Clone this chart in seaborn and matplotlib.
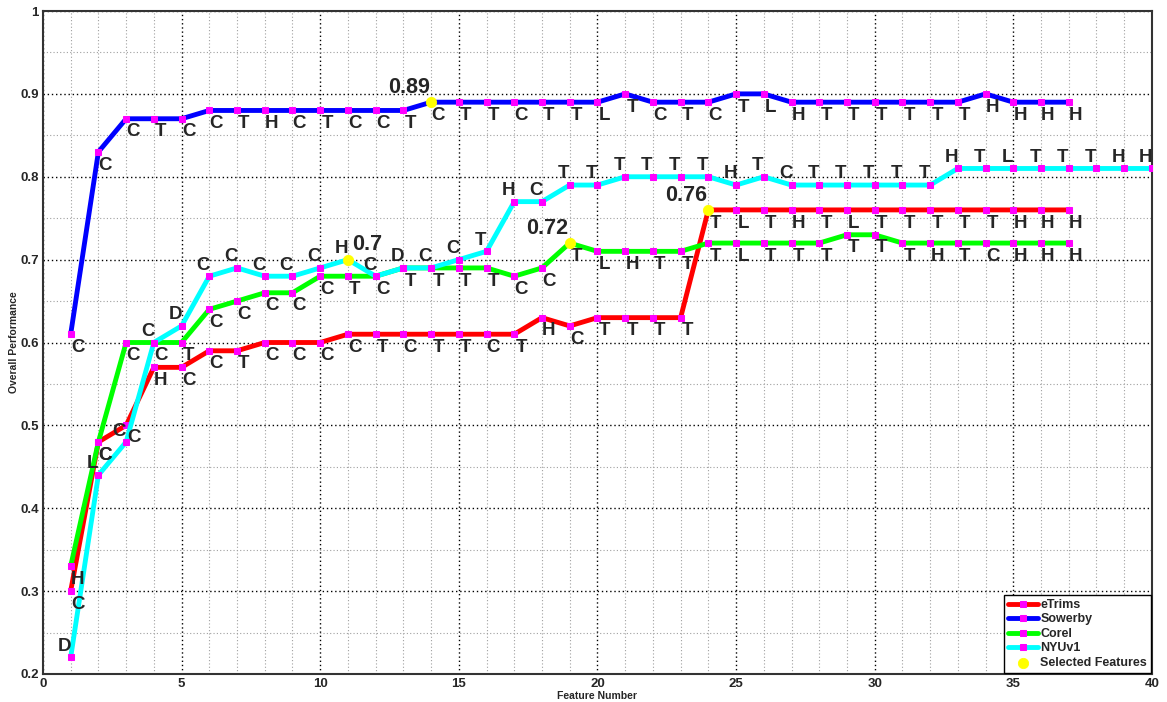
import numpy as np
import matplotlib
matplotlib.use("Agg")
import matplotlib.pyplot as plt
import seaborn as sns
from matplotlib.ticker import MultipleLocator, FuncFormatter

# --------------------
# values
etrims = [0.30, 0.48, 0.50, 0.57, 0.57, 0.59, 0.59, 0.60, 0.60, 0.60,
          0.61, 0.61, 0.61, 0.61, 0.61, 0.61, 0.61, 0.63, 0.62, 0.63,
          0.63, 0.63, 0.63, 0.76, 0.76, 0.76, 0.76, 0.76, 0.76, 0.76,
          0.76, 0.76, 0.76, 0.76, 0.76, 0.76, 0.76]
etrims_labels = list("CCCHCCTCCC" "CTCTTCTHCT" "TTTTLTHTLT" "TTTTHHH")

sowerby = [0.61, 0.83, 0.87, 0.87, 0.87, 0.88, 0.88, 0.88, 0.88, 0.88,
           0.88, 0.88, 0.88, 0.89, 0.89, 0.89, 0.89, 0.89, 0.89, 0.89,
           0.90, 0.89, 0.89, 0.89, 0.90, 0.90, 0.89, 0.89, 0.89, 0.89,
           0.89, 0.89, 0.89, 0.90, 0.89, 0.89, 0.89]
sowerby_labels = list("CCCTCCTHCT" "CCTCTTCTTL" "TCTCTLHTTT" "TTTHHHH")

corel = [0.33, 0.48, 0.60, 0.60, 0.60, 0.64, 0.65, 0.66, 0.66, 0.68,
         0.68, 0.68, 0.69, 0.69, 0.69, 0.69, 0.68, 0.69, 0.72, 0.71,
         0.71, 0.71, 0.71, 0.72, 0.72, 0.72, 0.72, 0.72, 0.73, 0.73,
         0.72, 0.72, 0.72, 0.72, 0.72, 0.72, 0.72]
corel_labels = list("HCCCTCCCCC" "TCTTTTCCTL" "HTTTLTTTTT" "THTCHHH")

nyu = [0.22, 0.44, 0.48, 0.60, 0.62, 0.68, 0.69, 0.68, 0.68, 0.69,
       0.70, 0.68, 0.69, 0.69, 0.70, 0.71, 0.77, 0.77, 0.79, 0.79,
       0.80, 0.80, 0.80, 0.80, 0.79, 0.80, 0.79, 0.79, 0.79, 0.79,
       0.79, 0.79, 0.81, 0.81, 0.81, 0.81, 0.81, 0.81, 0.81, 0.81]
nyu_labels = list("DLCCDCCCCC" "HCDCCTHCTT" "TTTTHTCTTT" "TTHTLTTTHH")

sel_x = [24, 14, 19, 11]
sel_y = [0.76, 0.89, 0.72, 0.70]
sel_text = ["0.76", "0.89", "0.72", "0.7"]

# --------------------
sns.set_style("white")
plt.rcParams["font.family"] = ["Liberation Sans", "DejaVu Sans"]
plt.rcParams["font.weight"] = "bold"

fig = plt.figure(figsize=(11.67, 7.02), dpi=100)
ax = fig.add_axes([0.0368, 0.0399, 0.9503, 0.9444])

series = [
    ("eTrims", etrims, etrims_labels, "#ff0000", "below"),
    ("Sowerby", sowerby, sowerby_labels, "#0000ff", "below"),
    ("Corel", corel, corel_labels, "#00ff00", "below"),
    ("NYUv1", nyu, nyu_labels, "#00ffff", "above"),
]

# letter offsets in points (below-right for most, above-left for NYUv1)
offsets = {"below": (5, -9.5), "above": (-4.3, 8)}
# a few letters were nudged by hand in the original
special = {("eTrims", 3): (-5, -4.5), ("NYUv1", 3): (6, 3.5)}

for name, vals, labs, color, side in series:
    xs = np.arange(1, len(vals) + 1)
    sns.lineplot(x=xs, y=vals, color=color, linewidth=3.5, marker="s",
                 markersize=5, markerfacecolor="#ff00ff",
                 markeredgecolor="#ff00ff", label=name, ax=ax, zorder=3)
    for xi, yi, lab in zip(xs, vals, labs):
        off = special.get((name, xi), offsets[side])
        ax.annotate(lab, (xi, yi), xytext=off, textcoords="offset points",
                    ha="center", va="center", fontsize=13.5,
                    fontweight="bold", zorder=5)

sns.scatterplot(x=sel_x, y=sel_y, color="#ffff00", edgecolor="#ffff00",
                s=55, zorder=6, label="Selected Features", ax=ax)

for xi, yi, t in zip(sel_x, sel_y, sel_text):
    if t == "0.7":
        ax.annotate(t, (xi, yi), xytext=(3, 3), textcoords="offset points",
                    ha="left", va="bottom", fontsize=15.5, fontweight="bold",
                    zorder=7)
    else:
        ax.annotate(t, (xi, yi), xytext=(-1, 3), textcoords="offset points",
                    ha="right", va="bottom", fontsize=15.5, fontweight="bold",
                    zorder=7)

# axes, ticks, grid
ax.set_xlim(0, 40)
ax.set_ylim(0.2, 1)
ax.xaxis.set_major_locator(MultipleLocator(5))
ax.xaxis.set_minor_locator(MultipleLocator(1))
ax.yaxis.set_major_locator(MultipleLocator(0.1))
ax.yaxis.set_minor_locator(MultipleLocator(0.05))
ax.yaxis.set_major_formatter(FuncFormatter(lambda v, p: f"{v:g}"))
ax.grid(which="major", color="black", linestyle=(0, (1, 2)), linewidth=1.0)
ax.grid(which="minor", color="#a0a0a0", linestyle=(0, (1, 2)), linewidth=0.8)
ax.set_axisbelow(True)
ax.tick_params(which="major", direction="in", length=5, width=1,
               labelsize=9.5, pad=3)
ax.tick_params(which="minor", direction="in", length=2.5, width=0.8)
for tl in ax.get_xticklabels() + ax.get_yticklabels():
    tl.set_fontweight("bold")
for s in ax.spines.values():
    s.set_color("#333333")
    s.set_linewidth(1.5)

ax.set_xlabel("Feature Number", fontsize=7.5, fontweight="bold")
ax.set_ylabel("Overall Performance", fontsize=7.5, fontweight="bold")
ax.xaxis.set_label_coords(0.5, -0.025)
ax.yaxis.set_label_coords(-0.0215, 0.5)

handles, labels = ax.get_legend_handles_labels()
leg = ax.legend(handles, labels, loc="lower right", fontsize=9,
                frameon=True, fancybox=False, framealpha=1,
                edgecolor="black", borderaxespad=0.1, borderpad=0.3,
                labelspacing=0.2, handlelength=2.4, handletextpad=0.2)
leg.get_frame().set_linewidth(1.0)
for t in leg.get_texts():
    t.set_fontweight("bold")

fig.savefig("out.png", dpi=100)
